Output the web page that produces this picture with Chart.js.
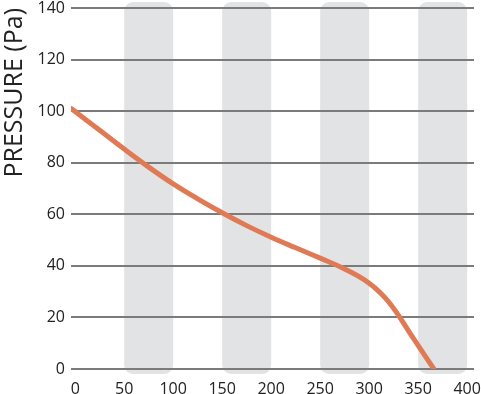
<!DOCTYPE html>
<html>
<head>
<meta charset="utf-8">
<script src="https://cdn.jsdelivr.net/npm/chart.js@4/dist/chart.umd.min.js"></script>
<style>
  html, body { margin: 0; padding: 0; background: #fff; }
  #wrap { width: 481px; height: 394px; }
</style>
</head>
<body>
<div id="wrap"><canvas id="fanChart" width="481" height="394"></canvas></div>
<script>
// airflow vs pressure curve
const flowX = [-4, 25, 50, 75, 100, 125, 150, 175, 200, 225, 250, 275, 300, 320, 345, 366];
const pressure = [101, 92.6, 85.3, 78.3, 71.8, 66, 60.6, 55.6, 51.1, 47, 43, 38.8, 33.3, 26, 12, 0];

// shaded columns (start, end on the x axis)
const bandStarts = [50, 150, 250, 350];
const bandEnds = [100, 200, 300, 400];

const xTicks = [0, 50, 100, 150, 200, 250, 300, 350, 400];
const yTicks = [0, 20, 40, 60, 80, 100, 120, 140];

const bandsPlugin = {
  id: 'bands',
  beforeDraw(chart) {
    const { ctx, chartArea, scales } = chart;
    ctx.save();
    ctx.fillStyle = '#e2e3e5';
    bandStarts.forEach((s, i) => {
      const x1 = scales.x.getPixelForValue(s);
      const x2 = scales.x.getPixelForValue(bandEnds[i]);
      const top = chartArea.top - 6;
      const bottom = chartArea.bottom + 5;
      ctx.beginPath();
      ctx.roundRect(x1, top, x2 - x1, bottom - top, 9);
      ctx.fill();
    });
    ctx.restore();
  }
};

// drop the label overhang so the plot area sits where the reference has it
const noOverhang = scale => {
  scale.paddingLeft = 0;
  scale.paddingRight = 0;
  scale.paddingTop = 0;
  scale.paddingBottom = 0;
};

new Chart(document.getElementById('fanChart'), {
  type: 'line',
  data: {
    datasets: [{
      data: flowX.map((x, i) => ({ x: x, y: pressure[i] })),
      borderColor: '#e07a55',
      borderWidth: 5,
      borderCapStyle: 'round',
      borderJoinStyle: 'round',
      pointRadius: 0,
      tension: 0.4,
      fill: false
    }]
  },
  options: {
    responsive: false,
    animation: false,
    layout: { padding: { top: 8, right: 7, left: 0, bottom: 0 } },
    plugins: { legend: { display: false }, tooltip: { enabled: false } },
    scales: {
      x: {
        type: 'linear',
        min: -4.3,
        max: 407,
        afterBuildTicks: scale => { scale.ticks = xTicks.map(v => ({ value: v })); },
        afterFit: scale => { scale.height = 25; noOverhang(scale); },
        grid: { display: false },
        border: { display: false },
        ticks: {
          includeBounds: false,
          maxRotation: 0,
          padding: 3,
          color: '#222',
          font: { family: 'Open Sans', size: 16 }
        }
      },
      y: {
        min: 0,
        max: 140,
        afterBuildTicks: scale => { scale.ticks = yTicks.map(v => ({ value: v })); },
        afterFit: scale => { scale.width = 71; noOverhang(scale); },
        grid: { color: '#7b7b7b', lineWidth: 2, drawTicks: false },
        border: { display: false },
        ticks: {
          padding: 6,
          color: '#222',
          font: { family: 'Open Sans', size: 16 }
        },
        title: {
          display: true,
          text: 'PRESSURE (Pa)',
          align: 'end',
          color: '#222',
          padding: { top: 0, bottom: 0 },
          font: { family: 'Open Sans', size: 25 }
        }
      }
    }
  },
  plugins: [bandsPlugin]
});
</script>
</body>
</html>
